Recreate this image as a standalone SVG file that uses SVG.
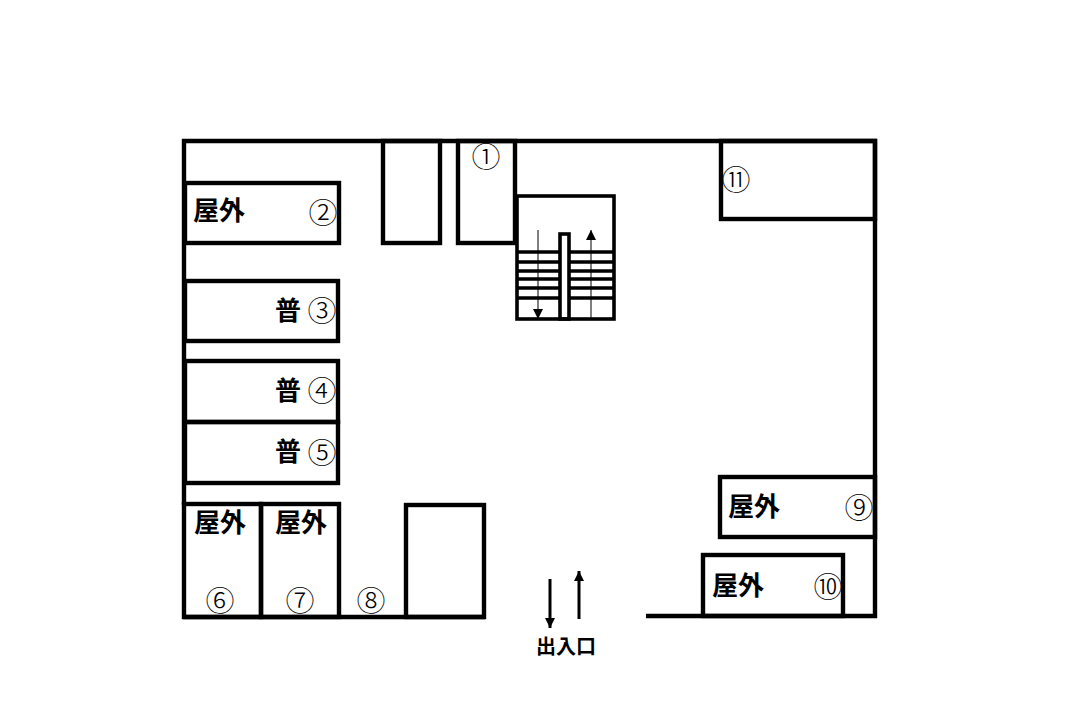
<svg xmlns="http://www.w3.org/2000/svg" width="1088" height="708" viewBox="0 0 1088 708">
<style>
text{font-family:"Noto Sans CJK JP","Noto Sans CJK SC",sans-serif;fill:#000;text-anchor:middle}
.l{font-size:26px;font-weight:700}
.n{font-size:29px;font-weight:300}
.s{font-size:20px;font-weight:700}
.w,.b{fill:none;stroke:#000;stroke-width:4.4}
.b3{fill:none;stroke:#000;stroke-width:3.6}
.a{fill:none;stroke:#000;stroke-width:3}
.t{fill:none;stroke:#000;stroke-width:1}
</style>
<defs>
<marker id="h" markerUnits="userSpaceOnUse" markerWidth="12" markerHeight="12" refX="10" refY="5" orient="auto"><path d="M0 0L10 5L0 10Z"/></marker>
</defs>
<g id="walls">
<path class="w" d="M184 505V141H875V616H646"/>
<path class="w" d="M183 617H485"/>
</g>
<g id="space-2"><rect class="b" x="185" y="183" width="154" height="60"/><text class="l" x="219" y="220">屋外</text><text class="n" x="323" y="224">②</text></g>
<g id="space-blank-a"><rect class="b" x="383" y="141" width="57" height="102"/></g>
<g id="space-1"><rect class="b" x="458" y="141" width="57" height="102"/><text class="n" x="486" y="168">①</text></g>
<g id="stairs">
<rect class="b3" x="517" y="196" width="97" height="123"/>
<rect class="b3" x="560" y="234" width="9" height="85"/>
<path class="b3" d="M517 252H560M517 262H560M517 271H560M517 279H560M517 288H560M517 298H560M570 252H614M570 262H614M570 271H614M570 279H614M570 288H614M570 298H614"/>
</g>
<g id="space-3"><rect class="b" x="185" y="281" width="153" height="60"/><text class="l" x="288" y="320">普</text><text class="n" x="322" y="322">③</text></g>
<g id="space-4"><rect class="b" x="185" y="361" width="153" height="61"/><text class="l" x="288" y="400">普</text><text class="n" x="322" y="402">④</text></g>
<g id="space-5"><rect class="b" x="185" y="422" width="153" height="61"/><text class="l" x="288" y="461">普</text><text class="n" x="322" y="464">⑤</text></g>
<g id="space-6"><rect class="b" x="184" y="504" width="77" height="113"/><text class="l" x="220" y="532">屋外</text><text class="n" x="220" y="612">⑥</text></g>
<g id="space-7"><rect class="b" x="261" y="504" width="78" height="113"/><text class="l" x="301" y="532">屋外</text><text class="n" x="300" y="612">⑦</text></g>
<g id="space-8"><text class="n" x="371" y="612">⑧</text></g>
<g id="space-blank-b"><rect class="b" x="406" y="505" width="78" height="112"/></g>
<g id="space-9"><rect class="b" x="720" y="477" width="155" height="60"/><text class="l" x="754" y="516">屋外</text><text class="n" x="859" y="519">⑨</text></g>
<g id="space-10"><rect class="b" x="703" y="555" width="140" height="61"/><text class="l" x="738" y="595">屋外</text><text class="n" x="828" y="598">⑩</text></g>
<g id="space-11"><rect class="b" x="721" y="141" width="154" height="78"/><text class="n" x="736" y="191">⑪</text></g>
<g id="connectors">
<path class="t" marker-end="url(#h)" d="M538 230V319"/>
<path class="t" marker-end="url(#h)" d="M591 318V230"/>
<path class="a" marker-end="url(#h)" d="M550 579V628"/>
<path class="a" marker-end="url(#h)" d="M579 619V571"/>
</g>
<g id="entrance"><text class="s" x="566" y="654">出入口</text></g>
</svg>
